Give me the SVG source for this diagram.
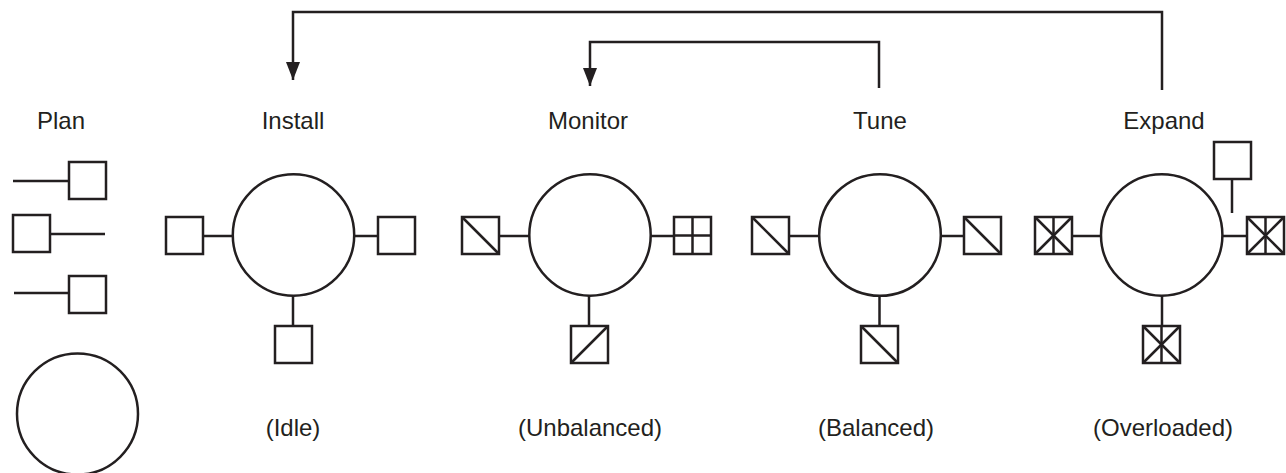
<svg xmlns="http://www.w3.org/2000/svg" width="1286" height="473" viewBox="0 0 1286 473">
<style>
.s{fill:#fff;stroke:#231f20;stroke-width:2.5}
.l{fill:none;stroke:#231f20;stroke-width:2.5}
text{font-family:"Liberation Sans",Arial,sans-serif;font-size:24px;fill:#231f20;text-anchor:middle}
</style>
<defs>
<marker id="ah" viewBox="0 0 18 14" refX="18" refY="7" markerWidth="18" markerHeight="14" markerUnits="userSpaceOnUse" orient="auto">
<path d="M0,0 L18,7 L0,14 Z" fill="#231f20"/>
</marker>
<g id="sq"><rect class="s" x="0" y="0" width="37" height="37"/></g>
<g id="sqd"><rect class="s" x="0" y="0" width="37" height="37"/><line class="l" x1="0" y1="0" x2="37" y2="37"/></g>
<g id="sqa"><rect class="s" x="0" y="0" width="37" height="37"/><line class="l" x1="0" y1="37" x2="37" y2="0"/></g>
<g id="sqp"><rect class="s" x="0" y="0" width="37" height="37"/><line class="l" x1="18.5" y1="0" x2="18.5" y2="37"/><line class="l" x1="0" y1="18.5" x2="37" y2="18.5"/></g>
<g id="sqx"><rect class="s" x="0" y="0" width="37" height="37"/><line class="l" x1="0" y1="0" x2="37" y2="37"/><line class="l" x1="0" y1="37" x2="37" y2="0"/><line class="l" x1="18.5" y1="0" x2="18.5" y2="37"/></g>
</defs>
<rect width="1286" height="473" fill="#fff"/>
<g id="connectors">
<path class="l" d="M1162,90 V12 H293 V80" marker-end="url(#ah)"/>
<path class="l" d="M879,88 V42 H590 V86" marker-end="url(#ah)"/>
</g>
<g id="plan">
<text x="61" y="129">Plan</text>
<line class="l" x1="13" y1="181" x2="69" y2="181"/><use href="#sq" x="69" y="162"/>
<line class="l" x1="50" y1="234" x2="105" y2="234"/><use href="#sq" x="13" y="215"/>
<line class="l" x1="14" y1="293" x2="69" y2="293"/><use href="#sq" x="69" y="276"/>
<circle class="s" cx="77.5" cy="414" r="60.5"/>
</g>
<g id="install">
<text x="293" y="129">Install</text>
<line class="l" x1="203" y1="236" x2="233" y2="236"/>
<line class="l" x1="354" y1="236" x2="378" y2="236"/>
<line class="l" x1="293" y1="296" x2="293" y2="326"/>
<circle class="s" cx="293.5" cy="235" r="60.7"/>
<use href="#sq" x="166" y="217"/><use href="#sq" x="378" y="217"/><use href="#sq" x="275" y="326"/>
<text x="293" y="436">(Idle)</text>
</g>
<g id="monitor">
<text x="588" y="129">Monitor</text>
<line class="l" x1="499" y1="236" x2="530" y2="236"/>
<line class="l" x1="651" y1="236" x2="674" y2="236"/>
<line class="l" x1="589" y1="296" x2="589" y2="326"/>
<circle class="s" cx="590" cy="235" r="60.7"/>
<use href="#sqd" x="462" y="217"/><use href="#sqp" x="674" y="217"/><use href="#sqa" x="571" y="326"/>
<text x="590" y="436">(Unbalanced)</text>
</g>
<g id="tune">
<text x="880" y="129">Tune</text>
<line class="l" x1="789" y1="236" x2="819" y2="236"/>
<line class="l" x1="941" y1="236" x2="964" y2="236"/>
<line class="l" x1="879.5" y1="296" x2="879.5" y2="326"/>
<circle class="s" cx="880" cy="235" r="60.8"/>
<use href="#sqd" x="752" y="217"/><use href="#sqd" x="964" y="217"/><use href="#sqd" x="861" y="326"/>
<text x="876" y="436">(Balanced)</text>
</g>
<g id="expand">
<text x="1164" y="129">Expand</text>
<line class="l" x1="1072" y1="236" x2="1101" y2="236"/>
<line class="l" x1="1222" y1="236" x2="1247" y2="236"/>
<line class="l" x1="1162" y1="296" x2="1162" y2="326"/>
<circle class="s" cx="1161.7" cy="235" r="60.7"/>
<use href="#sqx" x="1035" y="217"/><use href="#sqx" x="1247" y="217"/><use href="#sqx" x="1143" y="326"/>
<line class="l" x1="1232" y1="179" x2="1232" y2="213"/>
<use href="#sq" x="1214" y="142"/>
<text x="1163" y="436">(Overloaded)</text>
</g>
</svg>
